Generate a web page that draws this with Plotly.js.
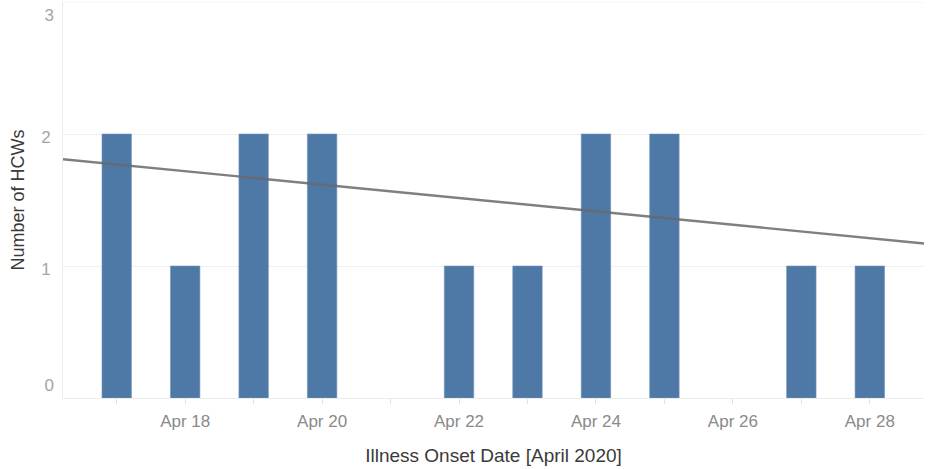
<!DOCTYPE html>
<html>
<head>
<meta charset="utf-8">
<script src="https://cdn.plot.ly/plotly-3.0.1.min.js"></script>
<style>html,body{margin:0;padding:0;background:#fff;}#chart{width:928px;height:469px;}</style>
</head>
<body>
<div id="chart"></div>
<script>
// Data
const onsetDates = ["2020-04-17","2020-04-18","2020-04-19","2020-04-20","2020-04-22","2020-04-23","2020-04-24","2020-04-25","2020-04-27","2020-04-28"];
const hcwCounts = [2,1,2,2,1,1,2,2,1,1];
const tickDates = ["2020-04-17","2020-04-18","2020-04-19","2020-04-20","2020-04-21","2020-04-22","2020-04-23","2020-04-24","2020-04-25","2020-04-26","2020-04-27","2020-04-28"];
const tickLabels = ["","Apr 18","","Apr 20","","Apr 22","","Apr 24","","Apr 26","","Apr 28"];
const yMidTicks = [1, 2];
const yTopTick = [3];
const yBottomTick = [0];
const xRange = ["2020-04-16 05:10","2020-04-28 19:00"];
const yRange = [0, 3];

// Linear trend line (least squares) through the data
const DAY = 86400000;
const tms = onsetDates.map(d => new Date(d + "T00:00:00Z").getTime() / DAY);
const n = tms.length;
const mx = tms.reduce((a,b)=>a+b,0)/n;
const my = hcwCounts.reduce((a,b)=>a+b,0)/n;
let sxy = 0, sxx = 0;
for (let i=0;i<n;i++){ sxy += (tms[i]-mx)*(hcwCounts[i]-my); sxx += (tms[i]-mx)*(tms[i]-mx); }
const slope = sxy/sxx;
const toDays = s => new Date(s.replace(" ","T") + ":00Z").getTime()/DAY;
const trendX = xRange;
const trendY = xRange.map(s => my + slope*(toDays(s)-mx));

const FONT = "'Liberation Sans', Arial, sans-serif";

const bars = {
  type: "bar",
  x: onsetDates,
  y: hcwCounts,
  width: 0.43*DAY,
  marker: {color: "#4e79a7", line: {color: "#6f93bb", width: 0.6}},
  showlegend: false
};
const trend = {
  type: "scatter",
  mode: "lines",
  x: trendX,
  y: trendY,
  line: {color: "rgba(105,105,105,0.85)", width: 2.4},
  showlegend: false
};
const ghost2 = {type: "scatter", x: [], y: [], yaxis: "y2", showlegend: false};
const ghost3 = {type: "scatter", x: [], y: [], yaxis: "y3", showlegend: false};

const ytickBase = {
  range: yRange,
  tickmode: "array",
  showgrid: false, zeroline: false, showline: false,
  ticks: "", ticklabelstandoff: 8,
  tickfont: {family: FONT, size: 17, color: "#a5a5a5"},
  overlaying: "y", anchor: "x",
  fixedrange: true
};

const layout = {
  width: 928, height: 469,
  margin: {l: 63, r: 4, t: 2, b: 71},
  paper_bgcolor: "#fff", plot_bgcolor: "#fff",
  font: {family: FONT, color: "#666"},
  xaxis: {
    type: "date",
    range: xRange,
    tickmode: "array",
    tickvals: tickDates,
    ticktext: tickLabels,
    ticks: "outside", ticklen: 5, tickcolor: "#e2e2e2", tickwidth: 1,
    ticklabelstandoff: 3,
    showgrid: false,
    showline: true, linecolor: "#ececec", linewidth: 1,
    zeroline: false,
    tickfont: {family: FONT, size: 17, color: "#8a8a8a"},
    title: {text: "Illness Onset Date [April 2020]", font: {family: FONT, size: 19, color: "#3a3a3a"}, standoff: 18},
    fixedrange: true
  },
  yaxis: {
    range: yRange,
    tickmode: "array",
    tickvals: yMidTicks,
    ticktext: yMidTicks.map(String),
    ticklabelshift: 3,
    showgrid: true, gridcolor: "#f0f0f0", gridwidth: 1,
    zeroline: true, zerolinecolor: "#ececec", zerolinewidth: 1,
    showline: true, linecolor: "#ececec", linewidth: 1,
    ticks: "", ticklabelstandoff: 8,
    tickfont: {family: FONT, size: 17, color: "#a5a5a5"},
    title: {text: "Number of HCWs", font: {family: FONT, size: 18, color: "#3a3a3a"}, standoff: 11},
    fixedrange: true
  },
  yaxis2: Object.assign({}, ytickBase, {tickvals: yTopTick, ticktext: yTopTick.map(String), ticklabelshift: 13}),
  yaxis3: Object.assign({}, ytickBase, {tickvals: yBottomTick, ticktext: yBottomTick.map(String), ticklabelshift: -13}),
  shapes: [
    {type: "line", xref: "paper", yref: "y", x0: 0, x1: 1, y0: 3, y1: 3, line: {color: "#f0f0f0", width: 1}, layer: "below"}
  ]
};

Plotly.newPlot("chart", [bars, trend, ghost2, ghost3], layout, {displayModeBar: false, staticPlot: true});
</script>
</body>
</html>
